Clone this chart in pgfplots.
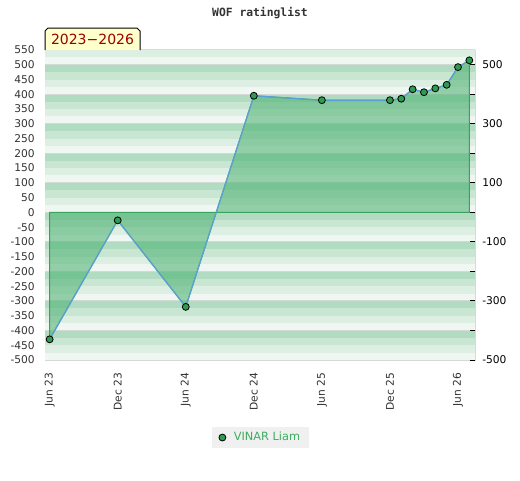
\documentclass[border=0pt]{standalone}
\usepackage{pgfplots}
\pgfplotsset{compat=1.18}
\usepackage{fontspec}
\setmainfont{DejaVu Sans}
\newfontfamily\titlefont{DejaVu Sans Mono}
\definecolor{bandA}{HTML}{B2DCC1}
\definecolor{bandB}{HTML}{C9E6D3}
\definecolor{bandC}{HTML}{DDEEE3}
\definecolor{bandD}{HTML}{F0F7F2}
\definecolor{gridc}{HTML}{D3DAD6}
\definecolor{areafill}{RGB}{70,175,110}
\definecolor{areaedge}{HTML}{3AA35A}
\definecolor{lineblue}{HTML}{5A9FD8}
\definecolor{markfill}{HTML}{2E9B50}
\definecolor{labgray}{HTML}{333333}
\definecolor{legtext}{HTML}{3CAD5E}
\definecolor{legbg}{HTML}{F0F0F0}
\definecolor{boxfill}{HTML}{FFFFCC}
\definecolor{boxtext}{HTML}{990000}
\begin{document}
\begin{tikzpicture}[x=0.75pt,y=0.75pt]
\path[use as bounding box] (0,0) rectangle (520,480);
% title
\node[font=\titlefont\bfseries\fontsize{8.5}{10}\selectfont, text=labgray] at (260,467) {WOF ratinglist};
\begin{axis}[
  at={(33.75pt,90pt)}, anchor=south west,
  scale only axis, width=322.5pt, height=232.5pt,
  xmin=-0.41, xmax=37.5, ymin=-500, ymax=550,
  axis line style={draw=gridc},
  ytick={-500,-450,...,550},
  xtick={0,6,12,18,24,30,36},
  xticklabels={Jun 23,Dec 23,Jun 24,Dec 24,Jun 25,Dec 25,Jun 26},
  major tick length=0pt,
  tick style={draw=none},
  /pgf/number format/assume math mode=true,
  yticklabel style={font=\fontsize{8}{9}\selectfont, text=labgray, anchor=east, inner sep=0pt, xshift=-7.5pt},
  xticklabel style={font=\fontsize{8}{9}\selectfont, text=labgray, rotate=90, anchor=east, inner sep=0pt},
  xticklabel shift=9.5pt,
  legend style={at={(0.502,-0.25)}, anchor=center, fill=legbg, draw=none,
     font=\fontsize{8.5}{9}\selectfont, text=legtext, inner xsep=5pt, inner ysep=2pt,
     column sep=4pt},
  legend cell align=left,
]
% background stripes
\pgfplotsinvokeforeach{-5,-4,-3,-2,-1,0,1,2,3,4,5}{
  \fill[bandA] (axis cs:-1,#1*100+75) rectangle (axis cs:40,#1*100+100);
  \fill[bandB] (axis cs:-1,#1*100+50) rectangle (axis cs:40,#1*100+75);
  \fill[bandC] (axis cs:-1,#1*100+25) rectangle (axis cs:40,#1*100+50);
  \fill[bandD] (axis cs:-1,#1*100) rectangle (axis cs:40,#1*100+25);
  \draw[gridc, line width=0.75pt] (axis cs:-1,#1*100) -- (axis cs:40,#1*100);
}
% area
\addplot[forget plot, fill=areafill, fill opacity=0.55, draw=areaedge, line width=0.75pt] coordinates {
 (0,0) (0,-430) (6,-27) (12,-320) (18,395) (24,380) (30,380) (31,385) (32,417) (33,407) (34,420) (35,432) (36,492) (37,515) (37,0)
} -- cycle;
% line
\addplot[forget plot, color=lineblue, line width=0.9pt, mark=none] coordinates {
 (0,-430) (6,-27) (12,-320) (18,395) (24,380) (30,380) (31,385) (32,417) (33,407) (34,420) (35,432) (36,492) (37,515)
};
% markers
\addplot[only marks, mark=*, mark size=2.6pt, mark options={fill=markfill, draw=black, line width=0.6pt}] coordinates {
 (0,-430) (6,-27) (12,-320) (18,395) (24,380) (30,380) (31,385) (32,417) (33,407) (34,420) (35,432) (36,492) (37,515)
};
\addlegendentry{VINAR Liam}
\end{axis}
\begin{axis}[
  at={(33.75pt,90pt)}, anchor=south west,
  scale only axis, width=322.5pt, height=232.5pt,
  xmin=-0.41, xmax=37.5, ymin=-500, ymax=550,
  axis x line=none, axis y line*=right,
  y axis line style={draw=none},
  ytick={-500,-300,...,500},
  minor ytick={-400,-200,0,200,400},
  tick align=inside,
  major tick length=3.75pt, minor tick length=3.75pt,
  tick style={black, line width=0.75pt},
  /pgf/number format/assume math mode=true,
  yticklabel style={font=\fontsize{8}{9}\selectfont, text=black, anchor=west, inner sep=0pt, xshift=5.25pt},
]
\addplot[draw=none, forget plot] coordinates {(0,0)};
\end{axis}
% period box
\filldraw[fill=boxfill, draw=black, line width=0.75pt] (45,430) -- (45,449) -- (48,452) -- (137,452) -- (140,449) -- (140,430);
\node[font=\fontsize{10.5}{12}\selectfont, text=boxtext, inner sep=0pt] at (92.5,440.5) {2023−2026};
\end{tikzpicture}
\end{document}
